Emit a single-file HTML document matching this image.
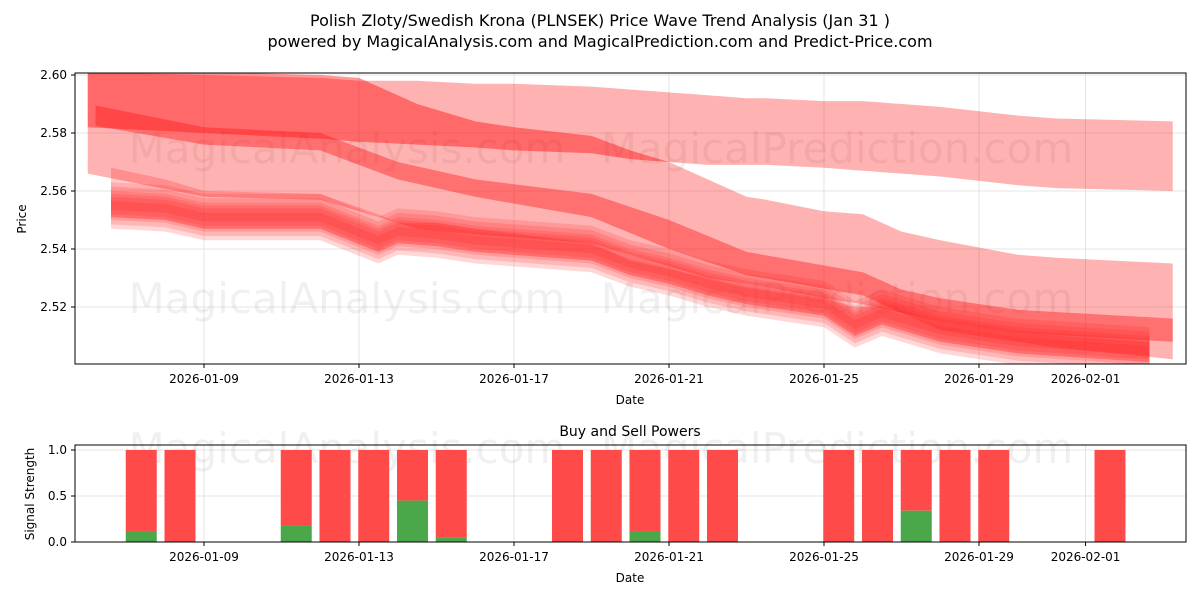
<!DOCTYPE html>
<html><head><meta charset="utf-8"><style>
body{margin:0;background:#fff;font-family:"Liberation Sans","DejaVu Sans",sans-serif}
svg text{font-family:"DejaVu Sans","Liberation Sans",sans-serif}
</style></head><body>
<svg id="c" width="1200" height="600" viewBox="0 0 1200 600">
<rect width="1200" height="600" fill="#fff"/>
<text x="600" y="26" font-size="16" text-anchor="middle">Polish Zloty/Swedish Krona (PLNSEK) Price Wave Trend Analysis (Jan 31 )</text>
<text x="600" y="47" font-size="16" text-anchor="middle">powered by MagicalAnalysis.com and MagicalPrediction.com and Predict-Price.com</text>
<defs><clipPath id="cp"><rect x="75" y="73" width="1111" height="291"/></clipPath></defs>
<g id="topG"></g>
<g id="botG"></g>
</svg>
<script>
// day offsets relative to 2026-01-09
const bandDays=[-3,0,3,4,5.5,7,8,10,11,12,13,14,14.5,16,17,18,19,21,22,25];
const bandA_hi=[2.601,2.600,2.599,2.598,2.598,2.597,2.597,2.596,2.595,2.594,2.593,2.592,2.592,2.591,2.591,2.590,2.589,2.586,2.585,2.584];
const bandA_lo=[2.582,2.580,2.578,2.577,2.576,2.575,2.574,2.573,2.571,2.570,2.569,2.569,2.569,2.568,2.567,2.566,2.565,2.562,2.561,2.560];
const bandB_hi=[2.601,2.601,2.600,2.599,2.590,2.584,2.582,2.579,2.574,2.570,2.564,2.558,2.557,2.553,2.552,2.546,2.543,2.538,2.537,2.535];
const bandB_lo=[2.566,2.558,2.557,2.553,2.547,2.545,2.544,2.542,2.538,2.534,2.530,2.528,2.527,2.523,2.521,2.518,2.512,2.508,2.506,2.502];
const lineDays=[-2.8,0,3,5,7,10,12,14,17,18,19,21,25];
const lineC=[2.586,2.579,2.577,2.567,2.561,2.555,2.545,2.535,2.528,2.522,2.519,2.515,2.512];
const lineCw=[0.0035,0.003,0.003,0.003,0.003,0.004,0.005,0.004,0.004,0.004,0.004,0.004,0.004];
const clDays=[-2.4,-1,0,3,4.5,5,6,7,10,11,12,13,14,16,16.8,17.5,19,21,24.4];
const clC=[2.555,2.554,2.551,2.551,2.543,2.546,2.545,2.543,2.540,2.535,2.532,2.528,2.525,2.521,2.514,2.518,2.512,2.508,2.505];
const clW=[0.003,0.006,0.008,0.010,0.013,0.016];
const bandC_hi=[2.568,2.564,2.560,2.559,2.552,2.549,2.549,2.547,2.542,2.536,2.533,2.530,2.527,2.523,2.520,2.520,2.515,2.511,2.508];
// signals
const sigDays=[-1,0,3,4,5,6,7,10,11,12,13,14,17,18,19,20,21,24];
const buyVals=[0.12,0,0.18,0,0,0.45,0.05,0,0,0.12,0,0,0,0,0.34,0,0,0];
const yTicks=[2.52,2.54,2.56,2.58,2.60];
const xTicks=[0,4,8,12,16,20,22.75];
const xTickLabels=["2026-01-09","2026-01-13","2026-01-17","2026-01-21","2026-01-25","2026-01-29","2026-02-01"];
const bTicks=[0,0.5,1.0];

const NS="http://www.w3.org/2000/svg";
const X=d=>204+d*38.75;
const Y=v=>75+(2.60-v)/0.02*58;
const YB=v=>542-v*92;
function mk(p,t,a){const e=document.createElementNS(NS,t);for(const k in a)e.setAttribute(k,a[k]);p.appendChild(e);return e;}
const topG=document.getElementById('topG'),botG=document.getElementById('botG');
yTicks.forEach(v=>{let g=mk(topG,'line',{x1:75,x2:1186,y1:Y(v),y2:Y(v),stroke:'#ddd','stroke-width':0.8});});
xTicks.forEach(d=>{let g=mk(topG,'line',{x1:X(d),x2:X(d),y1:73,y2:364,stroke:'#ddd','stroke-width':0.8});});
const wm=(p,y,s)=>{["MagicalAnalysis.com","MagicalPrediction.com"].forEach((t,i)=>{let e=mk(p,'text',{x:i?837:347,y:y,'font-size':s,'text-anchor':'middle',fill:'#000','fill-opacity':0.06});e.textContent=t;});};
wm(topG,163,42);wm(topG,313,42);
const g=mk(topG,'g',{'clip-path':'url(#cp)'});
function band(days,hi,lo,fill,op,name){const pts=days.map((d,i)=>X(d)+','+Y(hi[i])).concat(days.map((d,i)=>X(d)+','+Y(lo[i])).reverse());const e=mk(g,'polygon',{points:pts.join(' '),fill:fill,'fill-opacity':op});}
band(bandDays,bandA_hi,bandA_lo,'#ff0000',0.3,'wave-band-upper');
band(bandDays,bandB_hi,bandB_lo,'#ff0000',0.3,'wave-band-middle');
band(bandDays,bandB_hi,bandA_lo.map((v,i)=>Math.max(bandB_lo[i],Math.min(v,bandB_hi[i]))),'#ff0000',0.15,'wave-band-overlap');
band(clDays,bandC_hi,clC.map(v=>v-0.004),'#ff0000',0.2,'wave-band-lower');
band(lineDays,lineC.map((v,i)=>v+lineCw[i]),lineC.map((v,i)=>v-lineCw[i]),'#ff2020',0.45,'wave-line-band');
clW.slice().reverse().forEach(w=>band(clDays,clC.map(v=>v+w/2),clC.map(v=>v-w/2),'#ff2020',0.18,'wave-cluster'));
let ax=mk(topG,'rect',{x:75,y:73,width:1111,height:291,fill:'none',stroke:'#000','stroke-width':1});
yTicks.forEach(v=>{mk(topG,'line',{x1:71,x2:75,y1:Y(v),y2:Y(v),stroke:'#000'});let t=mk(topG,'text',{x:67,y:Y(v)+4,'font-size':12,'text-anchor':'end'});t.textContent=v.toFixed(2);});
xTicks.forEach((d,i)=>{mk(topG,'line',{x1:X(d),x2:X(d),y1:364,y2:368,stroke:'#000'});let t=mk(topG,'text',{x:X(d),y:383,'font-size':12,'text-anchor':'middle'});t.textContent=xTickLabels[i];});
let t1=mk(topG,'text',{x:630,y:404,'font-size':12,'text-anchor':'middle'});t1.textContent='Date';
let t2=mk(topG,'text',{x:26,y:219,'font-size':12,'text-anchor':'middle',transform:'rotate(-90 26 219)'});t2.textContent='Price';
let bt=mk(botG,'text',{x:630,y:436,'font-size':14,'text-anchor':'middle'});bt.textContent='Buy and Sell Powers';
bTicks.forEach(v=>{let l=mk(botG,'line',{x1:75,x2:1186,y1:YB(v),y2:YB(v),stroke:'#ddd','stroke-width':0.8});});
xTicks.forEach(d=>{mk(botG,'line',{x1:X(d),x2:X(d),y1:445,y2:542,stroke:'#ddd','stroke-width':0.8});});
wm(botG,463,42);
sigDays.forEach((d,i)=>{const cx=X(d)-24,w=31;let r=mk(botG,'rect',{x:cx-w/2,y:YB(1),width:w,height:YB(buyVals[i])-YB(1),fill:'#ff4a4a'});
if(buyVals[i]>0){let b=mk(botG,'rect',{x:cx-w/2,y:YB(buyVals[i]),width:w,height:542-YB(buyVals[i]),fill:'#4aa84a'});}});
let bx=mk(botG,'rect',{x:75,y:445,width:1111,height:97,fill:'none',stroke:'#000'});
bTicks.forEach(v=>{mk(botG,'line',{x1:71,x2:75,y1:YB(v),y2:YB(v),stroke:'#000'});let t=mk(botG,'text',{x:67,y:YB(v)+4,'font-size':12,'text-anchor':'end'});t.textContent=v.toFixed(1);});
xTicks.forEach((d,i)=>{mk(botG,'line',{x1:X(d),x2:X(d),y1:542,y2:546,stroke:'#000'});let t=mk(botG,'text',{x:X(d),y:561,'font-size':12,'text-anchor':'middle'});t.textContent=xTickLabels[i];});
let t3=mk(botG,'text',{x:630,y:582,'font-size':12,'text-anchor':'middle'});t3.textContent='Date';
let t4=mk(botG,'text',{x:34,y:494,'font-size':12,'text-anchor':'middle',transform:'rotate(-90 34 494)'});t4.textContent='Signal Strength';
</script>
</body></html>
